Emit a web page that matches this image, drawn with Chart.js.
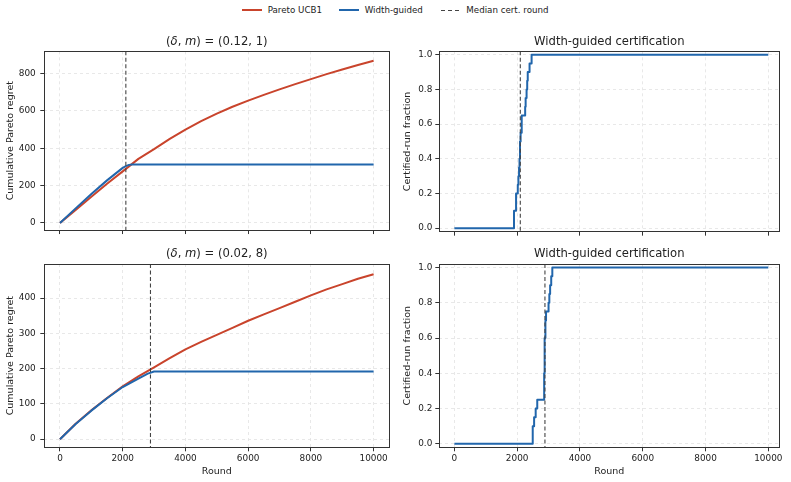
<!DOCTYPE html>
<html><head><meta charset="utf-8">
<script src="https://cdn.jsdelivr.net/npm/chart.js@4.4.1/dist/chart.umd.min.js"></script>
<style>
html,body{margin:0;padding:0;background:#fff;}
body{width:791px;height:482px;position:relative;overflow:hidden;font-family:"DejaVu Sans",sans-serif;color:#222;}
canvas{position:absolute;}
.sw{position:absolute;height:2px;}
.tx{position:absolute;font-size:8.7px;line-height:10px;white-space:nowrap;color:#222;}
</style></head>
<body>
<span class="sw" style="left:242px;top:9px;width:20px;background:#c9442c"></span>
<span class="tx" style="left:267.7px;top:5px">Pareto UCB1</span>
<span class="sw" style="left:339px;top:9px;width:20px;background:#2166ac"></span>
<span class="tx" style="left:364.7px;top:5px">Width-guided</span>
<span class="sw" style="left:441px;top:9.5px;width:18px;height:1.2px;background:repeating-linear-gradient(90deg,#444 0 4px,transparent 4px 7px)"></span>
<span class="tx" style="left:466.3px;top:5px">Median cert. round</span>

<canvas id="tl" width="395" height="220" style="left:0;top:20px"></canvas>
<canvas id="tr" width="396" height="220" style="left:395px;top:20px"></canvas>
<canvas id="bl" width="395" height="242" style="left:0;top:240px"></canvas>
<canvas id="br" width="396" height="242" style="left:395px;top:240px"></canvas>

<script>
// ---------- data ----------
const xTicks = [0, 2000, 4000, 6000, 8000, 10000];
const regretTicksTop = [0, 200, 400, 600, 800];
const regretTicksBottom = [0, 100, 200, 300, 400];
const fracTicks = [0, 0.2, 0.4, 0.6, 0.8, 1.0];

const roundsUCB = [0,500,1000,1500,2000,2500,3000,3500,4000,4500,5000,5500,6000,6500,7000,7500,8000,8500,9000,9500,10000];
const ucbTop    = [0,70,140,210,276,343,395,450,500,545,585,622,655,686,715,743,770,797,822,846,868];
const ucbBottom = [0,44,82,117,150,178,204,230,255,276,296,316,336,354,372,390,408,425,440,455,468];

const widthTopRounds = [0,500,1000,1500,2000,2100,2200,2300,10000];
const widthTop       = [0,78,155,228,295,304,311,313,313];
const widthBottomRounds = [0,500,1000,1500,2000,2500,2800,3000,10000];
const widthBottom       = [0,43,81,116,148,172,186,192,192];

const certTopRounds = [0,1900,1965,2020,2040,2060,2075,2090,2110,2145,2255,2270,2300,2320,2337,2395,2460,10000];
const certTopFrac   = [0,0.1,0.2,0.25,0.3,0.35,0.4,0.5,0.55,0.65,0.7,0.75,0.8,0.85,0.9,0.95,1.0,1.0];
const certBottomRounds = [0,2496,2540,2590,2640,2860,2875,2900,2920,3000,3025,3050,3085,3120,10000];
const certBottomFrac   = [0,0.1,0.15,0.2,0.25,0.4,0.6,0.7,0.75,0.8,0.85,0.9,0.95,1.0,1.0];

const medianTop = 2100;
const medianBottom = 2885;

const titleTop = [['(',0],['δ',1],[', ',0],['m',1],[') = (0.12, 1)',0]];
const titleBottom = [['(',0],['δ',1],[', ',0],['m',1],[') = (0.02, 8)',0]];
const titleCert = [['Width-guided certification',0]];

// ---------- styles ----------
const RED = '#c9442c', BLUE = '#2166ac';
const FONT = '"DejaVu Sans", sans-serif';
const pts = (xs, ys) => xs.map((x, i) => ({x, y: ys[i]}));

const panelPlugin = {
  id: 'panel',
  afterDatasetsDraw(chart, args, o) {
    const {ctx, chartArea: a, scales} = chart;
    if (o.median != null) {
      const px = scales.x.getPixelForValue(o.median);
      ctx.save();
      ctx.strokeStyle = '#444'; ctx.lineWidth = 1.1; ctx.setLineDash([4, 2.5]);
      ctx.beginPath(); ctx.moveTo(px, a.top); ctx.lineTo(px, a.bottom); ctx.stroke();
      ctx.restore();
    }
  },
  afterDraw(chart, args, o) {
    const {ctx, chartArea: a} = chart;
    ctx.save();
    ctx.strokeStyle = '#333'; ctx.lineWidth = 1;
    ctx.strokeRect(Math.round(a.left) + 0.5, Math.round(a.top) + 0.5, Math.round(a.right - a.left), Math.round(a.bottom - a.top));
    const segs = o.title || [];
    ctx.fillStyle = '#222'; ctx.textBaseline = 'middle'; ctx.textAlign = 'left';
    let w = 0;
    const fonts = segs.map(s => (s[1] ? 'italic ' : '') + '11.6px ' + FONT);
    segs.forEach((s, i) => { ctx.font = fonts[i]; w += ctx.measureText(s[0]).width; });
    let x = (a.left + a.right) / 2 - w / 2;
    const y = a.top - 9.6;
    segs.forEach((s, i) => { ctx.font = fonts[i]; ctx.fillText(s[0], x, y); x += ctx.measureText(s[0]).width; });
    ctx.restore();
  }
};

function makePanel(id, cfg) {
  const tickFont = {family: FONT, size: 8.9};
  const titleFont = {family: FONT, size: 9.5};
  return new Chart(document.getElementById(id), {
    type: 'line',
    data: {datasets: cfg.datasets},
    options: {
      responsive: false, animation: false, events: [],
      layout: {padding: {top: cfg.padTop, right: cfg.padRight, left: 0, bottom: 0}},
      elements: {point: {radius: 0}, line: {tension: 0, borderWidth: 2, borderJoinStyle: 'round'}},
      plugins: {legend: {display: false}, tooltip: {enabled: false},
        panel: {median: cfg.median, title: cfg.title}},
      scales: {
        x: {
          type: 'linear', min: cfg.xMin, max: cfg.xMax,
          afterBuildTicks: s => { s.ticks = xTicks.map(v => ({value: v})); },
          afterFit: s => { s.height = cfg.xHeight; },
          ticks: {display: cfg.xLabels, font: tickFont, color: '#222', padding: 2, maxRotation: 0, autoSkip: false,
            callback: v => String(v)},
          grid: {color: '#e3e3e3', lineWidth: 0.8, tickColor: '#333', tickLength: 4, tickWidth: 1},
          border: {display: false, dash: [3, 3]},
          title: {display: cfg.xLabels, text: 'Round', font: titleFont, color: '#222', padding: {top: 0, bottom: 5}}
        },
        y: {
          type: 'linear', min: cfg.yMin, max: cfg.yMax,
          afterBuildTicks: s => { s.ticks = cfg.yTicks.map(v => ({value: v})); },
          afterFit: s => { s.width = 44.3; },
          ticks: {font: tickFont, color: '#222', padding: cfg.yTickPad, autoSkip: false,
            callback: v => cfg.yFmt ? v.toFixed(1) : String(v)},
          grid: {color: '#e3e3e3', lineWidth: 0.8, tickColor: '#333', tickLength: 4, tickWidth: 1},
          border: {display: false, dash: [3, 3]},
          title: {display: true, text: cfg.yTitle, font: titleFont, color: '#222', padding: {top: cfg.yTitlePad, bottom: 0}}
        }
      }
    },
    plugins: [panelPlugin]
  });
}

const regretSets = (ucbY, wX, wY) => [
  {label: 'Pareto UCB1', data: pts(roundsUCB, ucbY), borderColor: RED, order: 1},
  {label: 'Width-guided', data: pts(wX, wY), borderColor: BLUE, order: 0}
];
const certSet = (xs, ys) => [{label: 'Width-guided', data: pts(xs, ys), borderColor: BLUE, stepped: 'before'}];

makePanel('tl', {datasets: regretSets(ucbTop, widthTopRounds, widthTop), median: medianTop, title: titleTop,
  padTop: 31.3, padRight: 5.7, xMin: -500, xMax: 10500, xHeight: 6, xLabels: false,
  yMin: -38, yMax: 919, yTicks: regretTicksTop, yTitle: 'Cumulative Pareto regret', yTitlePad: 4.8, yTickPad: 4.6});
makePanel('tr', {datasets: certSet(certTopRounds, certTopFrac), median: medianTop, title: titleCert,
  padTop: 31.3, padRight: 11.7, xMin: -480, xMax: 10350, xHeight: 5.4, xLabels: false,
  yMin: -0.02, yMax: 1.02, yTicks: fracTicks, yFmt: true, yTitle: 'Certified-run fraction', yTitlePad: 7.3, yTickPad: 3});
makePanel('bl', {datasets: regretSets(ucbBottom, widthBottomRounds, widthBottom), median: medianBottom, title: titleBottom,
  padTop: 24, padRight: 5.7, xMin: -500, xMax: 10500, xHeight: 34.7, xLabels: true,
  yMin: -23, yMax: 497, yTicks: regretTicksBottom, yTitle: 'Cumulative Pareto regret', yTitlePad: 4.8, yTickPad: 4.6});
makePanel('br', {datasets: certSet(certBottomRounds, certBottomFrac), median: medianBottom, title: titleCert,
  padTop: 24, padRight: 11.7, xMin: -480, xMax: 10350, xHeight: 34.7, xLabels: true,
  yMin: -0.02, yMax: 1.02, yTicks: fracTicks, yFmt: true, yTitle: 'Certified-run fraction', yTitlePad: 7.3, yTickPad: 3});
</script>
</body></html>
